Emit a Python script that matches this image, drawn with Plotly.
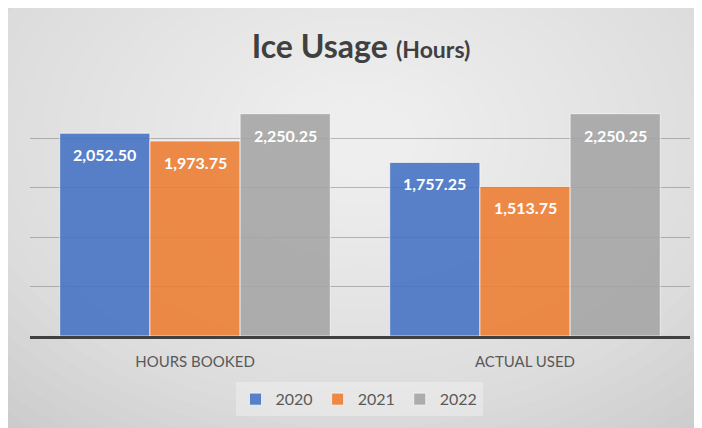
import plotly.graph_objects as go

categories = ["HOURS BOOKED", "ACTUAL USED"]
years = ["2020", "2021", "2022"]
hours_2020 = [2052.50, 1757.25]
hours_2021 = [1973.75, 1513.75]
hours_2022 = [2250.25, 2250.25]

series = [hours_2020, hours_2021, hours_2022]
colors = ["#4472C4", "#ED7D31", "#A5A5A5"]
FONT = "Lato, Open Sans, sans-serif"

# figure sits 8px in from the page corner (body margin)
W, H = 694, 420
L, R, T, B = 22, 12, 81, 89
pw, ph = W - L - R, H - T - B

def px_x(p):
    return (p - L) / pw

def px_y(p):
    return (H - B - p) / ph

fig = go.Figure()

for name, vals, c in zip(years, series, colors):
    fig.add_trace(go.Bar(
        x=categories, y=vals, name=name,
        marker=dict(color=c, line=dict(color="rgba(255,255,255,0.7)", width=1)),
        opacity=0.88,
    ))

# =========================
# DATA LABELS
# =========================
bw = (1 - 0.18) / 3
for j, vals in enumerate(series):
    for i, v in enumerate(vals):
        fig.add_annotation(
            x=i + (j - 1) * bw, y=v, text=f"<b>{v:,.2f}</b>",
            showarrow=False, yanchor="top", yshift=-10,
            font=dict(family=FONT, size=16, color="white"),
        )

# =========================
# BACKGROUND (soft radial gradient)
# =========================
fig.add_shape(type="rect", xref="paper", yref="paper", layer="below",
              x0=px_x(-2), x1=px_x(W + 2), y0=px_y(H + 2), y1=px_y(-2),
              fillcolor="#c3c3c3", line_width=0)
cx, cy = 352, 130
n = 30
for k in range(n):
    f = 1 - k / n
    rx, ry = 560 * f + 20, 400 * f + 15
    fig.add_shape(type="circle", xref="paper", yref="paper", layer="below",
                  x0=px_x(cx - rx), x1=px_x(cx + rx),
                  y0=px_y(cy + ry), y1=px_y(cy - ry),
                  fillcolor="rgba(255,255,255,0.055)", line_width=0)

fig.update_layout(
    width=W, height=H,
    margin=dict(l=L, r=R, t=T, b=B),
    paper_bgcolor="#c3c3c3",
    plot_bgcolor="rgba(0,0,0,0)",
    barmode="group", bargap=0.18, bargroupgap=0,
    title=dict(
        text="<b>Ice Usage</b> <span style='font-size:23px'><b>(Hours)</b></span>",
        x=px_x(353), xref="paper", xanchor="center", y=(H - 39) / H, yanchor="middle",
        font=dict(family=FONT, size=32, color="#404040"),
    ),
    xaxis=dict(
        showline=True, linecolor="#404040", linewidth=2.5,
        showgrid=False, ticks="", ticklabelstandoff=10,
        tickfont=dict(family=FONT, size=15, color="#595959"),
    ),
    yaxis=dict(
        range=[0, 2500], dtick=500, showticklabels=False, zeroline=False,
        gridcolor="rgba(110,110,110,0.45)", gridwidth=1,
    ),
    legend=dict(
        orientation="h", x=px_x(351), xanchor="center", y=px_y(395), yanchor="middle",
        bgcolor="rgba(255,255,255,0.3)",
        font=dict(family=FONT, size=16, color="#595959"),
        itemwidth=30,
    ),
    showlegend=True,
)

fig.write_html("out.html")
